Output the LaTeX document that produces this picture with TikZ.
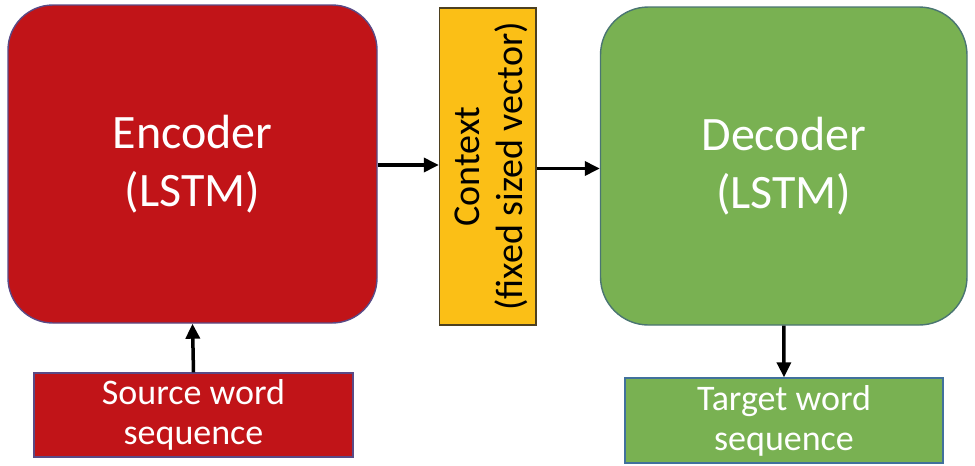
\documentclass[tikz,border=0pt]{standalone}
\usepackage{fontspec}
\setmainfont{Carlito}
\usepackage{graphicx}
\usetikzlibrary{arrows.meta}
\definecolor{encred}{HTML}{C11418}
\definecolor{encline}{HTML}{5A4A86}
\definecolor{decgreen}{HTML}{79B152}
\definecolor{decline}{HTML}{4A7572}
\definecolor{tgtline}{HTML}{41719C}
\definecolor{ctxfill}{HTML}{FBBF16}
\definecolor{ctxline}{HTML}{4D4020}
\tikzset{
  box/.style={draw, line width=1.4pt, inner sep=0pt, align=center, text=white},
  bigbox/.style={box, rounded corners=45pt, font=\fontsize{48}{58}\selectfont},
  smallbox/.style={box, font=\fontsize{36}{40}\selectfont},
  arr/.style={line width=3.5pt, -{Triangle[length=15pt,width=14pt]}, black},
}
\begin{document}
\begin{tikzpicture}[x=1pt,y=-1pt]
\useasboundingbox[fill=white] (0,0) rectangle (975,466);
\node[bigbox, fill=encred, draw=encline, minimum width=369pt, minimum height=318pt] (enc) at (192.5,164) {Encoder\\(LSTM)};
\node[smallbox, fill=encred, draw=encline, minimum width=319pt, minimum height=84pt] (src) at (193.5,415) {Source word\\sequence};
\node[box, fill=ctxfill, draw=ctxline, minimum width=96.5pt, minimum height=317pt,
  label={[xshift=4pt, rotate=90, inner sep=0pt, align=center, text=black, font=\fontsize{38}{43}\selectfont]center:Context\\(fixed sized vector)}] (ctx) at (487.75,166.5) {};
\node[bigbox, fill=decgreen, draw=decline, rounded corners=48pt, minimum width=366.5pt, minimum height=318pt] (dec) at (783.75,166) {Decoder\\(LSTM)};
\node[smallbox, fill=decgreen, draw=tgtline, minimum width=318pt, minimum height=85pt] (tgt) at (784,420.5) {Target word\\sequence};
\draw[arr] (src.north) -- (enc.south);
\draw[arr] ([yshift=-1pt]enc.east) -- ([yshift=-1pt]enc.east -| ctx.west);
\draw[arr] ([yshift=-2pt]ctx.east) -- ([yshift=-2pt]ctx.east -| dec.west);
\draw[arr] (dec.south) -- (tgt.north);
\end{tikzpicture}
\end{document}
